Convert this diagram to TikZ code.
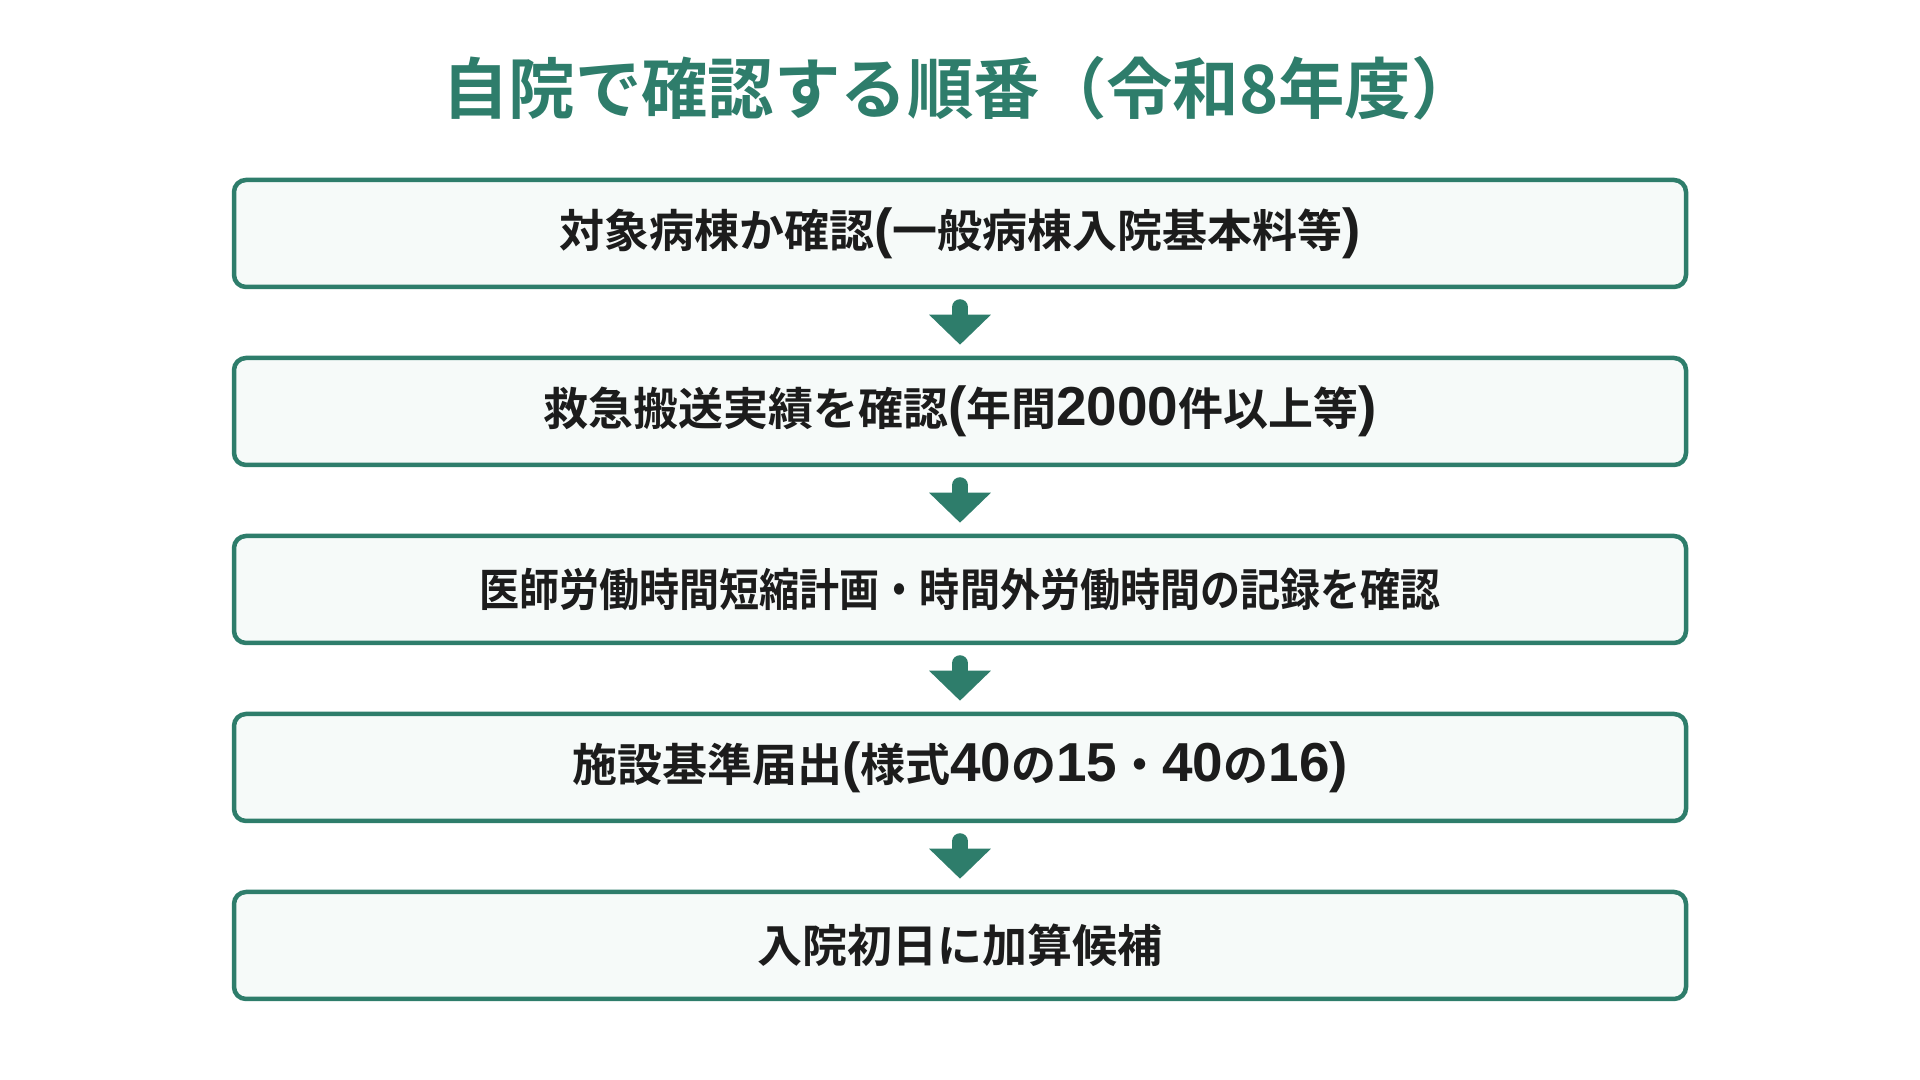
\documentclass[tikz,border=0pt]{standalone}
\usepackage{fontspec}
\setmainfont{Noto Sans CJK JP}[BoldFont={* Bold}]
\newfontfamily\narrowjp{Noto Sans CJK JP}[BoldFont={* Bold}, FakeStretch=0.89]
\newfontfamily\latinfont{Liberation Sans}[BoldFont={* Bold}, Scale=1.22]
\usepackage{xcolor}
\usepackage{tikz}
\usetikzlibrary{arrows.meta}

\definecolor{stepgreen}{HTML}{2E7D6B}
\definecolor{stepfill}{HTML}{F6FAF9}
\definecolor{steptext}{HTML}{1C1C1C}

\tikzset{
  stepbox/.style={draw=stepgreen, line width=0.045cm, fill=stepfill,
    rounded corners=0.12cm, minimum width=14.52cm, minimum height=1.07cm,
    text=steptext, font=\fontsize{12.8}{15}\selectfont\bfseries},
  steparrow/.style={stepgreen, line width=0.16cm, line cap=round,
    -{Triangle[width=0.6cm,length=0.3cm]}, shorten <=0.18cm, shorten >=0.11cm}
}

\begin{document}
\begin{tikzpicture}
  \useasboundingbox (0,0) rectangle (19.2,10.8);

  % Title
  \node[text=stepgreen, font=\fontsize{18.9}{23}\selectfont\bfseries] (title) at (9.6,9.92) {自院で確認する順番（令和8年度）};

  % Steps
  \node[stepbox] (check) at (9.6,8.465) {対象病棟か確認{\latinfont(}一般病棟入院基本料等{\latinfont)}};
  \node[stepbox] (transport) at (9.6,6.685) {救急搬送実績を確認{\latinfont(}年間{\latinfont 2000}件以上等{\latinfont)}};
  \node[stepbox] (record) at (9.6,4.905) {\narrowjp 医師労働時間短縮計画・時間外労働時間の記録を確認};
  \node[stepbox] (notice) at (9.6,3.125) {施設基準届出{\latinfont(}様式{\latinfont 40}の{\latinfont 15}・{\latinfont 40}の{\latinfont 16)}};
  \node[stepbox] (candidate) at (9.6,1.345) {入院初日に加算候補};

  % Arrows
  \draw[steparrow] (check.south) -- (transport.north);
  \draw[steparrow] (transport.south) -- (record.north);
  \draw[steparrow] (record.south) -- (notice.north);
  \draw[steparrow] (notice.south) -- (candidate.north);

\end{tikzpicture}
\end{document}
